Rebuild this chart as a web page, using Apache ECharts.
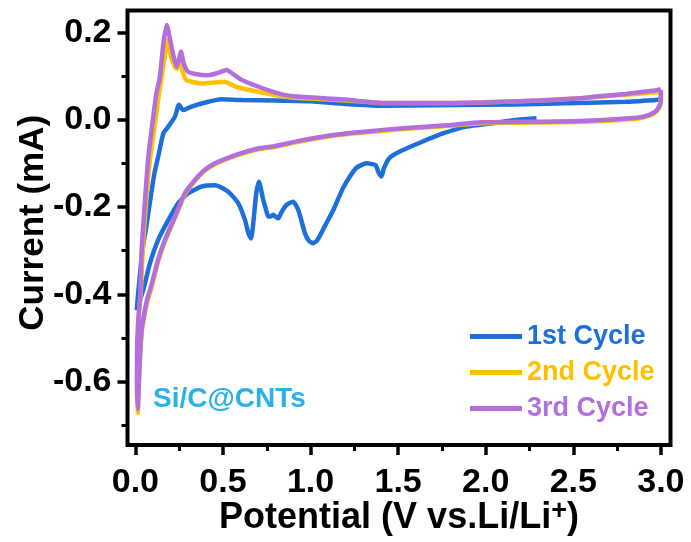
<!DOCTYPE html>
<html>
<head>
<meta charset="utf-8">
<script src="https://cdn.jsdelivr.net/npm/echarts@6/dist/echarts.min.js"></script>
<style>
  html, body { margin: 0; padding: 0; background: #fff; }
  #chart { width: 691px; height: 542px; }
</style>
</head>
<body>
<div id="chart"></div>
<script>
// Cyclic voltammetry of the Si/C@CNTs electrode, first three cycles.
// Potential in V vs. Li/Li+, current in mA, listed in scan order.

// 1st cycle: starts at open-circuit potential, cathodic sweep to 0.01 V, then anodic to 3.0 V
const cycle1Potential = [
  2.29, 2.15, 2.04, 1.89, 1.76, 1.64, 1.51, 1.45, 1.42, 1.405,
  1.39, 1.37, 1.32, 1.26, 1.19, 1.13, 1.08, 1.04, 1.015, 0.99,
  0.968, 0.93, 0.90, 0.87, 0.854, 0.83, 0.816, 0.80, 0.787, 0.77,
  0.759, 0.745, 0.73, 0.705, 0.69, 0.673, 0.66, 0.645, 0.626, 0.587,
  0.53, 0.454, 0.378, 0.30, 0.245, 0.188, 0.13, 0.083, 0.045, 0.02,
  0.008,
  0.010, 0.020, 0.040, 0.064, 0.090, 0.110, 0.130, 0.160, 0.188, 0.226,
  0.249, 0.273, 0.32, 0.416, 0.49, 0.607, 0.80, 1.00, 1.20, 1.41,
  1.70, 2.00, 2.30, 2.60, 2.80, 2.97, 3.00
];
const cycle1Current = [
  0.003, -0.002, -0.008, -0.016, -0.031, -0.050, -0.073, -0.088, -0.110, -0.130,
  -0.122, -0.104, -0.100, -0.111, -0.153, -0.207, -0.245, -0.275, -0.283, -0.277,
  -0.260, -0.207, -0.188, -0.193, -0.199, -0.215, -0.226, -0.222, -0.218, -0.222,
  -0.222, -0.205, -0.184, -0.142, -0.169, -0.237, -0.272, -0.260, -0.230, -0.191,
  -0.165, -0.150, -0.153, -0.169, -0.191, -0.230, -0.275, -0.329, -0.390, -0.420,
  -0.436,
  -0.425, -0.380, -0.300, -0.241, -0.170, -0.120, -0.085, -0.031, -0.016, 0.007,
  0.034, 0.022, 0.030, 0.041, 0.047, 0.045, 0.044, 0.042, 0.036, 0.032,
  0.033, 0.034, 0.036, 0.039, 0.041, 0.045, 0.046
];

// 2nd cycle: 3.0 V -> 0.01 V -> 3.0 V
const cycle2Potential = [
  3.00, 3.00, 2.99, 2.96, 2.90, 2.82, 2.54, 2.20, 1.97, 1.80,
  1.51, 1.32, 1.13, 0.94, 0.80, 0.70, 0.57, 0.454, 0.39, 0.34,
  0.283, 0.226, 0.169, 0.129, 0.095, 0.066, 0.050, 0.036, 0.025, 0.018,
  0.013,
  0.010, 0.010, 0.013, 0.020, 0.030, 0.042, 0.062, 0.085, 0.115, 0.135,
  0.150, 0.170, 0.184, 0.200, 0.220, 0.236, 0.255, 0.270, 0.290, 0.38,
  0.45, 0.51, 0.57, 0.70, 0.89, 1.08, 1.32, 1.41, 1.70, 2.00,
  2.30, 2.54, 2.80, 2.95, 3.00
];
const cycle2Current = [
  0.062, 0.042, 0.027, 0.014, 0.005, 0.001, -0.005, -0.007, -0.008, -0.014,
  -0.022, -0.029, -0.037, -0.050, -0.062, -0.068, -0.083, -0.102, -0.119, -0.140,
  -0.171, -0.225, -0.279, -0.326, -0.380, -0.420, -0.452, -0.488, -0.555, -0.625,
  -0.672,
  -0.672, -0.600, -0.520, -0.450, -0.400, -0.298, -0.184, -0.085, 0.000, 0.060,
  0.098, 0.150, 0.182, 0.150, 0.125, 0.116, 0.137, 0.110, 0.091, 0.083,
  0.085, 0.087, 0.076, 0.064, 0.051, 0.047, 0.041, 0.038, 0.038, 0.040,
  0.044, 0.049, 0.057, 0.062, 0.064
];

// 3rd cycle: 3.0 V -> 0.01 V -> 3.0 V
const cycle3Potential = [
  3.00, 3.00, 2.99, 2.96, 2.90, 2.82, 2.54, 2.20, 1.97, 1.80,
  1.51, 1.32, 1.13, 0.94, 0.80, 0.70, 0.57, 0.454, 0.39, 0.34,
  0.283, 0.226, 0.169, 0.129, 0.095, 0.066, 0.050, 0.036, 0.025, 0.018,
  0.013,
  0.010, 0.009, 0.010, 0.018, 0.026, 0.036, 0.055, 0.074, 0.100, 0.120,
  0.140, 0.160, 0.179, 0.195, 0.215, 0.236, 0.250, 0.260, 0.275, 0.30,
  0.35, 0.416, 0.47, 0.52, 0.56, 0.607, 0.70, 0.80, 0.89, 1.08,
  1.20, 1.32, 1.41, 1.70, 2.00, 2.30, 2.54, 2.63, 2.80, 2.95,
  3.00
];
const cycle3Current = [
  0.068, 0.045, 0.030, 0.016, 0.007, 0.003, -0.003, -0.005, -0.006, -0.012,
  -0.020, -0.027, -0.035, -0.048, -0.060, -0.066, -0.081, -0.100, -0.117, -0.138,
  -0.168, -0.222, -0.275, -0.321, -0.374, -0.413, -0.445, -0.481, -0.550, -0.620,
  -0.662,
  -0.662, -0.600, -0.520, -0.450, -0.413, -0.298, -0.184, -0.085, 0.000, 0.060,
  0.098, 0.175, 0.217, 0.190, 0.150, 0.121, 0.140, 0.156, 0.130, 0.110,
  0.104, 0.102, 0.107, 0.114, 0.104, 0.091, 0.076, 0.062, 0.054, 0.049,
  0.046, 0.041, 0.038, 0.038, 0.040, 0.044, 0.049, 0.053, 0.059, 0.066,
  0.070
];

const seriesNames = ['1st Cycle', '2nd Cycle', '3rd Cycle'];
const seriesColors = ['#1D6FDB', '#FFC000', '#B36FDD'];

// Axis ticks
const xMajorTicks = [0, 0.5, 1.0, 1.5, 2.0, 2.5, 3.0];
const xMinorTicks = [0.25, 0.75, 1.25, 1.75, 2.25, 2.75];
const yMajorTicks = [-0.6, -0.4, -0.2, 0.0, 0.2];
const yMinorTicks = [-0.7, -0.5, -0.3, -0.1, 0.1];

const sampleLabel = 'Si/C@CNTs';

const X_MIN = -0.045, X_MAX = 3.055;
const Y_MIN = -0.745, Y_MAX = 0.25;
const FONT = '"Liberation Sans", Arial, sans-serif';

function pairs(xs, ys) {
  return xs.map((x, i) => [x, ys[i]]);
}

const cycles = [
  pairs(cycle1Potential, cycle1Current),
  pairs(cycle2Potential, cycle2Current),
  pairs(cycle3Potential, cycle3Current)
];

const chart = echarts.init(document.getElementById('chart'), null, { renderer: 'canvas' });

const tickLabelStyle = {
  fontFamily: FONT, fontWeight: 'bold', fontSize: 34, color: '#000'
};

const option = {
  animation: false,
  backgroundColor: '#fff',
  grid: {
    left: 127.5, right: 20.5, top: 10.5, bottom: 97,
    outerBoundsMode: 'none',
    show: true, borderWidth: 4, borderColor: '#000', backgroundColor: 'transparent'
  },
  xAxis: [
    {
      type: 'value', min: X_MIN, max: X_MAX, position: 'bottom',
      axisLine: { show: false, onZero: false },
      splitLine: { show: false },
      axisTick: { show: true, customValues: xMajorTicks, length: 10, lineStyle: { color: '#000', width: 3.5 } },
      axisLabel: {
        customValues: xMajorTicks, margin: 21, ...tickLabelStyle,
        formatter: v => v.toFixed(1)
      },
      name: '{a|Potential (V vs.Li/Li}{s|+}{a|)}',
      nameLocation: 'middle', nameGap: 53, nameMoveOverlap: false,
      nameTextStyle: {
        rich: {
          a: { fontFamily: FONT, fontWeight: 'bold', fontSize: 36, lineHeight: 40, color: '#000' },
          s: { fontFamily: FONT, fontWeight: 'bold', fontSize: 27, lineHeight: 18, color: '#000', verticalAlign: 'top' }
        }
      }
    },
    {
      type: 'value', min: X_MIN, max: X_MAX, position: 'bottom',
      axisLine: { show: false, onZero: false }, splitLine: { show: false },
      axisTick: { show: true, customValues: xMinorTicks, length: 6, lineStyle: { color: '#000', width: 3 } },
      axisLabel: { show: false }
    }
  ],
  yAxis: [
    {
      type: 'value', min: Y_MIN, max: Y_MAX, position: 'left',
      axisLine: { show: false, onZero: false },
      splitLine: { show: false },
      axisTick: { show: true, customValues: yMajorTicks, length: 10, lineStyle: { color: '#000', width: 3.5 } },
      axisLabel: {
        customValues: yMajorTicks, margin: 16, ...tickLabelStyle,
        formatter: v => v.toFixed(1)
      },
      name: 'Current (mA)',
      nameLocation: 'middle', nameGap: 77, nameMoveOverlap: false,
      nameTextStyle: { fontFamily: FONT, fontWeight: 'bold', fontSize: 35, color: '#000', padding: [0, 0, 0, 10] }
    },
    {
      type: 'value', min: Y_MIN, max: Y_MAX, position: 'left',
      axisLine: { show: false, onZero: false }, splitLine: { show: false },
      axisTick: { show: true, customValues: yMinorTicks, length: 6, lineStyle: { color: '#000', width: 3 } },
      axisLabel: { show: false }
    }
  ],
  legend: {
    orient: 'vertical',
    left: 465, top: 318,
    itemWidth: 52, itemHeight: 5, itemGap: 9,
    icon: 'rect',
    textStyle: { fontFamily: FONT, fontWeight: 'bold', fontSize: 27 },
    data: seriesNames.map((n, i) => ({ name: n, textStyle: { color: seriesColors[i] } }))
  },
  graphic: [
    {
      type: 'text', left: 153, top: 385, z: 10,
      style: { text: sampleLabel, fill: '#2CB1E6', font: 'bold 28px ' + FONT }
    }
  ],
  series: cycles.map((data, i) => ({
    name: seriesNames[i],
    type: 'line',
    data: data,
    showSymbol: false,
    smooth: 0.2,
    color: seriesColors[i],
    lineStyle: { width: 4.5, color: seriesColors[i] },
    z: 2 + i
  }))
};

chart.setOption(option);
</script>
</body>
</html>
